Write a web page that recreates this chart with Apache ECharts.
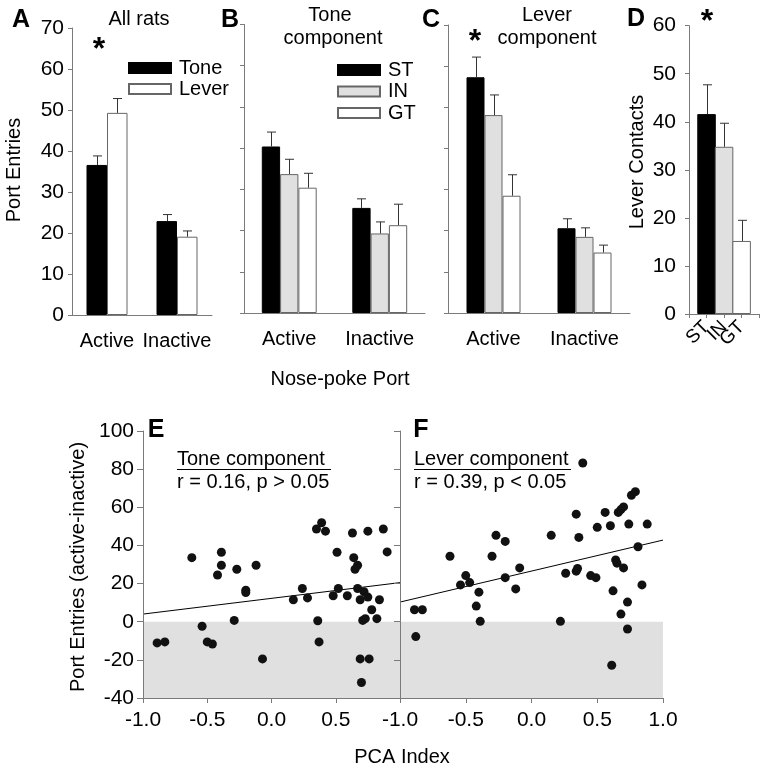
<!DOCTYPE html>
<html>
<head>
<meta charset="utf-8">
<script src="https://cdn.jsdelivr.net/npm/echarts@6/dist/echarts.min.js"></script>
<style>
html, body { margin: 0; padding: 0; background: #fff; }
#chart { width: 768px; height: 769px; }
</style>
</head>
<body>
<div id="chart"></div>
<script>
// panel A-C: nose-poke port entries (mean and SEM)
const ports = ['Active', 'Inactive']
const allTone = [36.6, 22.9]
const allToneErr = [2.2, 1.6]
const allLever = [49.3, 19.1]
const allLeverErr = [3.5, 1.4]
const toneST = [40.4, 25.5]
const toneSTErr = [3.5, 2.2]
const toneIN = [33.7, 19.3]
const toneINErr = [3.6, 2.8]
const toneGT = [30.4, 21.3]
const toneGTErr = [3.5, 5.1]
const leverST = [57.3, 20.6]
const leverSTErr = [4.9, 2.3]
const leverIN = [48.1, 18.5]
const leverINErr = [4.9, 2.2]
const leverGT = [28.5, 14.7]
const leverGTErr = [5.1, 1.8]
// panel D: lever contacts
const groups = ['ST', 'IN', 'GT']
const contacts = [41.6, 34.8, 15.2]
const contactsErr = [6.1, 4.9, 4.3]
// panel E: tone component, PCA index vs port entries (active-inactive)
const tonePCA = [-0.62, -0.39, -0.39, -0.42, -0.27, -0.12, -0.20, -0.20, -0.29, -0.54, -0.89, -0.83, -0.50, -0.46, -0.07,
  0.17, 0.24, 0.28, 0.35, 0.39, 0.42, 0.36, 0.37, 0.51, 0.48, 0.52, 0.59, 0.63, 0.64, 0.67, 0.65, 0.67, 0.69,
  0.72, 0.75, 0.84, 0.78, 0.75, 0.87, 0.90, 0.71, 0.73, 0.82, 0.69, 0.76, 0.70]
const toneDiff = [33.6, 36.4, 29.6, 24.5, 27.5, 29.6, 16.5, 15.3, 0.7, -2.4, -11.1, -10.6, -10.6, -11.7, -19.5,
  11.5, 17.4, 12.5, 48.6, 51.9, 47.5, 0.5, -10.6, 36.4, 13.6, 17.4, 13.6, 46.5, 33.6, 29.6, 27.5, 17.4, 11.5,
  15.7, 12.9, 11.5, 6.3, 47.5, 48.6, 36.6, 0.7, 1.6, 1.6, -19.5, -19.5, -31.9]
const toneFitX = [-1, 1]
const toneFitY = [4.0, 20.5]
// panel F: lever component
const leverPCA = [0.39, -0.62, -0.27, -0.20, -0.30, -0.50, -0.54, -0.47, -0.40, -0.42, -0.39, -0.20, -0.12, -0.09,
  -0.89, -0.83, -0.88, 0.15, 0.22, 0.26, 0.34, 0.36, 0.34, 0.35, 0.45, 0.49, 0.50, 0.56, 0.60, 0.66, 0.68, 0.70,
  0.74, 0.76, 0.79, 0.88, 0.81, 0.64, 0.65, 0.70, 0.84, 0.62, 0.73, 0.68, 0.73, 0.61]
const leverDiff = [83.2, 34.3, 45.3, 42.1, 34.3, 24.2, 19.3, 20.5, 15.5, 8.2, 0.2, 23.1, 17.2, 28.2,
  6.3, 6.3, -7.8, 45.3, 0.2, 25.4, 56.4, 44.2, 26.5, 27.9, 24.2, 23.1, 49.5, 57.3, 50.3, 57.3, 58.8, 60.2,
  51.2, 66.3, 68.2, 51.2, 39.3, 32.4, 30.7, 28.2, 19.3, 16.2, 10.3, 4.0, -3.8, -22.8]
const leverFitX = [-1, 1]
const leverFitY = [10.3, 42.8]

const font = '"Liberation Sans", Arial, sans-serif'
const axisGray = '#7a7a7a'
const black = '#000'
const gray = '#e0e0e0'
const white = '#fff'

const chart = echarts.init(document.getElementById('chart'))

const barAxisLine = { onZero: false, lineStyle: { color: axisGray, width: 1 } }

function catAxis(gridIndex, data) {
  return {
    type: 'category', gridIndex, data,
    axisLine: barAxisLine,
    axisTick: { alignWithLabel: true, length: 4, lineStyle: { color: axisGray } },
    axisLabel: { color: '#000', fontFamily: font, fontSize: 20, margin: 16, interval: 0, hideOverlap: false }
  }
}

function valAxis(gridIndex, max, showLabels, margin) {
  return {
    type: 'value', gridIndex, min: 0, max, interval: 10,
    splitLine: { show: false },
    axisLine: { show: true, onZero: false, lineStyle: { color: axisGray } },
    axisTick: { show: true, length: 4, lineStyle: { color: axisGray } },
    axisLabel: { show: showLabels, color: '#000', fontFamily: font, fontSize: 21, margin: margin || 8 }
  }
}

function barSeries(name, xi, data, color, border, width) {
  return {
    type: 'bar', name, xAxisIndex: xi, yAxisIndex: xi, data,
    barWidth: width, barGap: '0%',
    itemStyle: { color, borderColor: border, borderWidth: 1 },
    emphasis: { disabled: true }
  }
}

function errSeries(xi, means, errs, offset, idx) {
  return {
    type: 'custom', name: 'err' + xi + '_' + offset, xAxisIndex: xi, yAxisIndex: xi, z: 3,
    silent: true,
    data: means.map((m, i) => [idx ? idx[i] : i, m, m + errs[i]]),
    renderItem(params, api) {
      const lo = api.coord([api.value(0), api.value(1)])
      const hi = api.coord([api.value(0), api.value(2)])
      const x = Math.round(lo[0] + offset) + 0.5
      const st = { stroke: '#333', lineWidth: 1 }
      return {
        type: 'group', children: [
          { type: 'line', shape: { x1: x, y1: lo[1], x2: x, y2: hi[1] }, style: st },
          { type: 'line', shape: { x1: x - 4.5, y1: hi[1], x2: x + 4.5, y2: hi[1] }, style: st }
        ]
      }
    }
  }
}

function pcaAxis(gridIndex, showMax) {
  return {
    type: 'value', gridIndex, min: -1, max: 1, interval: 0.5, z: 10,
    splitLine: { show: false },
    axisLine: { onZero: false, lineStyle: { color: axisGray } },
    axisTick: { length: 5, lineStyle: { color: axisGray } },
    axisLabel: {
      color: '#000', fontFamily: font, fontSize: 21, margin: 12, showMaxLabel: showMax,
      formatter: v => v.toFixed(1)
    }
  }
}

function diffAxis(gridIndex, showLabels) {
  return {
    type: 'value', gridIndex, min: -40, max: 100, interval: 20, z: 10,
    splitLine: { show: false },
    axisLine: { show: true, onZero: false, lineStyle: { color: axisGray } },
    axisTick: { show: true, length: 6, lineStyle: { color: axisGray } },
    axisLabel: { show: showLabels, color: '#000', fontFamily: font, fontSize: 21, margin: 9 }
  }
}

function scatterSeries(xi, xs, ys) {
  return {
    type: 'scatter', xAxisIndex: xi, yAxisIndex: xi, z: 3,
    data: xs.map((x, i) => [x, ys[i]]),
    symbolSize: 9,
    itemStyle: { color: '#111', opacity: 1 },
    emphasis: { disabled: true },
    markArea: {
      silent: true,
      itemStyle: { color: gray, opacity: 1 },
      data: [[{ yAxis: -40 }, { yAxis: 0 }]]
    }
  }
}

function fitSeries(xi, xs, ys) {
  return {
    type: 'line', xAxisIndex: xi, yAxisIndex: xi, z: 2,
    data: xs.map((x, i) => [x, ys[i]]),
    showSymbol: false, symbol: 'none', silent: true,
    lineStyle: { color: '#000', width: 1 }
  }
}

function txt(text, x, y, size, opts) {
  opts = opts || {}
  return {
    type: 'text', x, y, rotation: opts.rot || 0, silent: true,
    style: {
      text, fill: '#000',
      font: (opts.bold ? 'bold ' : '') + size + 'px ' + font,
      textAlign: opts.align || 'center', textVerticalAlign: 'middle'
    }
  }
}

const dCats = ['', ...groups, ' ']
const dColors = [[black, black], [gray, '#666'], [white, '#666']]

const legendText = { fontFamily: font, fontSize: 20, color: '#000', lineHeight: 20, padding: [0, 0, 0, 3] }

const option = {
  animation: false,
  backgroundColor: '#fff',
  grid: [
    { left: 72, top: 28, width: 140, height: 287 },
    { left: 244, top: 24.5, width: 181, height: 288.5 },
    { left: 448, top: 25, width: 182, height: 288 },
    { left: 689, top: 25.7, width: 74, height: 288.3 },
    { left: 143, top: 431, width: 257, height: 267 },
    { left: 400, top: 431, width: 263, height: 267 }
  ],
  xAxis: [
    catAxis(0, ports),
    catAxis(1, ports),
    catAxis(2, ports),
    {
      type: 'category', gridIndex: 3, data: dCats, boundaryGap: false,
      axisLine: barAxisLine,
      axisTick: { length: 4, interval: 0, lineStyle: { color: axisGray } },
      axisLabel: {
        color: '#000', fontFamily: font, fontSize: 19, rotate: 45, margin: 10,
        interval: 0, hideOverlap: false
      }
    },
    pcaAxis(4, false),
    pcaAxis(5, true)
  ],
  yAxis: [
    valAxis(0, 70, true),
    valAxis(1, 70, false),
    valAxis(2, 70, false),
    valAxis(3, 60, true, 13),
    diffAxis(4, true),
    diffAxis(5, false)
  ],
  legend: [
    {
      data: ['Tone', 'Lever'], orient: 'vertical', left: 128, top: 58, padding: 0,
      icon: 'rect', itemWidth: 42, itemHeight: 10, itemGap: 1, selectedMode: false,
      textStyle: legendText
    },
    {
      data: groups, orient: 'vertical', left: 337, top: 60, padding: 0,
      icon: 'rect', itemWidth: 42, itemHeight: 10, itemGap: 1.5, selectedMode: false,
      textStyle: legendText
    }
  ],
  series: [
    barSeries('Tone', 0, allTone, black, black, 20.5),
    barSeries('Lever', 0, allLever, white, '#666', 20.5),
    errSeries(0, allTone, allToneErr, -10.25),
    errSeries(0, allLever, allLeverErr, 10.25),

    barSeries('ST', 1, toneST, black, black, 18.3),
    barSeries('IN', 1, toneIN, gray, '#666', 18.3),
    barSeries('GT', 1, toneGT, white, '#666', 18.3),
    errSeries(1, toneST, toneSTErr, -18.3),
    errSeries(1, toneIN, toneINErr, 0),
    errSeries(1, toneGT, toneGTErr, 18.3),

    barSeries('ST', 2, leverST, black, black, 18),
    barSeries('IN', 2, leverIN, gray, '#666', 18),
    barSeries('GT', 2, leverGT, white, '#666', 18),
    errSeries(2, leverST, leverSTErr, -18),
    errSeries(2, leverIN, leverINErr, 0),
    errSeries(2, leverGT, leverGTErr, 18),

    {
      type: 'bar', name: 'contacts', xAxisIndex: 3, yAxisIndex: 3, barWidth: 18.5,
      emphasis: { disabled: true },
      data: contacts.map((v, i) => ({
        value: [i + 1, v],
        itemStyle: { color: dColors[i][0], borderColor: dColors[i][1], borderWidth: 1 }
      }))
    },
    errSeries(3, contacts, contactsErr, 0, [1, 2, 3]),

    scatterSeries(4, tonePCA, toneDiff),
    fitSeries(4, toneFitX, toneFitY),
    scatterSeries(5, leverPCA, leverDiff),
    fitSeries(5, leverFitX, leverFitY)
  ],
  graphic: [
    txt('A', 21, 20, 25, { bold: true }),
    txt('All rats', 139, 19, 20),
    txt('*', 99, 50, 32, { bold: true }),
    txt('B', 230, 20, 25, { bold: true }),
    txt('Tone', 330, 15, 20),
    txt('component', 333, 38, 20),
    txt('C', 431, 20, 25, { bold: true }),
    txt('Lever', 547, 15, 20),
    txt('component', 547, 38, 20),
    txt('*', 475, 42, 32, { bold: true }),
    txt('D', 636, 19, 25, { bold: true }),
    txt('*', 707, 22, 32, { bold: true }),
    txt('Port Entries', 14, 170, 20, { rot: Math.PI / 2 }),
    txt('Lever Contacts', 637, 162, 20, { rot: Math.PI / 2 }),
    txt('Nose-poke Port', 340, 379, 20),

    txt('E', 156, 430, 25, { bold: true }),
    txt('Tone component', 177, 459, 20, { align: 'left' }),
    { type: 'line', silent: true, shape: { x1: 177, y1: 469.5, x2: 331, y2: 469.5 }, style: { stroke: '#000', lineWidth: 1 } },
    txt('r = 0.16, p > 0.05', 177, 482, 20, { align: 'left' }),
    txt('F', 421, 430, 25, { bold: true }),
    txt('Lever component', 414, 459, 20, { align: 'left' }),
    { type: 'line', silent: true, shape: { x1: 414, y1: 469.5, x2: 571, y2: 469.5 }, style: { stroke: '#000', lineWidth: 1 } },
    txt('r = 0.39, p < 0.05', 414, 482, 20, { align: 'left' }),
    txt('Port Entries (active-inactive)', 78, 567, 20, { rot: Math.PI / 2 }),
    txt('PCA Index', 402, 757, 20)
  ]
}

chart.setOption(option)
</script>
</body>
</html>
